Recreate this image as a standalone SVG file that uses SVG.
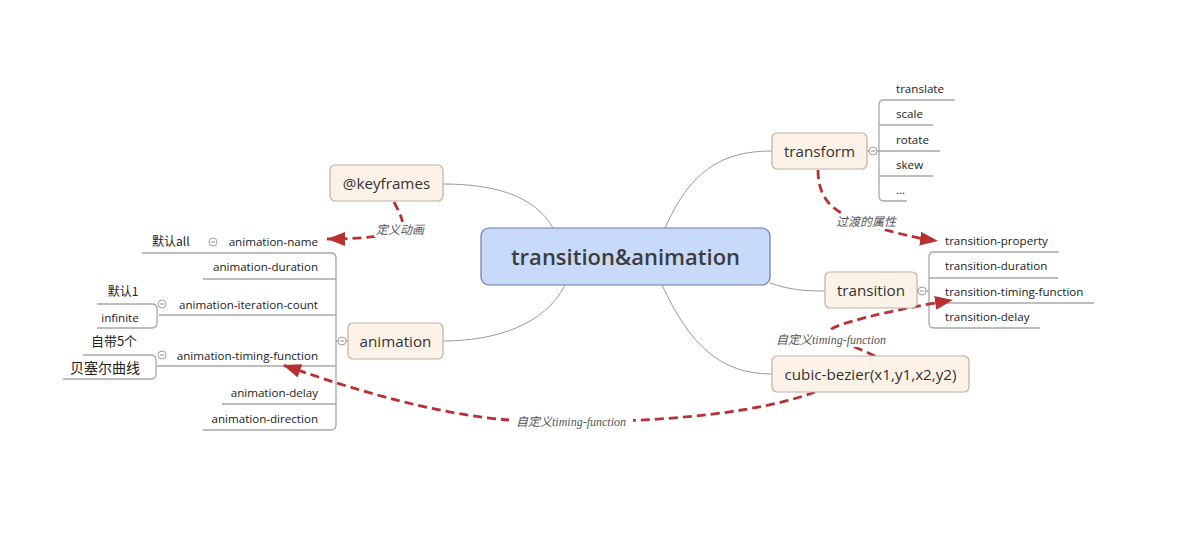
<svg xmlns="http://www.w3.org/2000/svg" width="1198" height="554" viewBox="0 0 1198 554">
<style>
text{font-family:"Open Sans","Noto Sans","Noto Sans CJK SC",sans-serif;fill:#222}
.node rect{fill:#fdf2e8;stroke:#bdb1a5;stroke-width:1.2}
.node text{font-size:15.2px;fill:#333;text-anchor:middle}
.leaf{font-size:11.6px}
.r{text-anchor:end}
.cjk{font-family:"Noto Sans CJK SC",sans-serif;font-size:12px}
.conn{fill:none;stroke:#9a9a9a;stroke-width:1}
.tree{fill:none;stroke:#a8a8a8;stroke-width:1.3}
.rel{fill:none;stroke:#b83030;stroke-width:2.8;stroke-dasharray:9,5}
.lab{font-family:"Liberation Serif","Noto Sans CJK SC",serif;font-style:italic;font-size:12px;fill:#555;text-anchor:middle}
.labbg{fill:#fff}
</style>
<defs>
<marker id="arr" markerUnits="userSpaceOnUse" markerWidth="20" markerHeight="16" refX="18" refY="7" orient="auto" viewBox="0 0 20 14">
<path d="M0,0 L18,7 L0,14 z" fill="#b83030"/>
</marker>
<g id="tg"><circle r="4" fill="#ffffff" stroke="#a0a0a0" stroke-width="1"/><path d="M-2,0 H2" stroke="#909090" stroke-width="1"/></g>
</defs>
<rect width="1198" height="554" fill="#fff"/>

<g id="connectors">
<path class="conn" d="M553,228 C535,196 495,184 443,184"/>
<path class="conn" d="M565,285 C545,325 495,341 443,341"/>
<path class="conn" d="M665,228 C690,172 720,151 772,151"/>
<path class="conn" d="M770,283 C790,290 805,291 825,291"/>
<path class="conn" d="M662,285 C690,345 720,374 772,374"/>

<path class="tree" d="M867,151 H869 M877,151 H879"/>
<path class="tree" d="M955,100 H884 Q879,100 879,105 V196 Q879,201 884,201 H907"/>
<path class="tree" d="M879,125 H933 M879,151 H940 M879,176 H933"/>
<path class="tree" d="M917,291 H918 M926,291 H929"/>
<path class="tree" d="M1059,252 H934 Q929,252 929,257 V323 Q929,328 934,328 H1040"/>
<path class="tree" d="M929,278 H1058 M929,303 H1094"/>
<path class="tree" d="M348,341 H346 M338,341 H336"/>
<path class="tree" d="M142,253 H331 Q336,253 336,258 V425 Q336,430 331,430 H203"/>
<path class="tree" d="M203,279 H336 M159,315 H336 M157,366 H336 M222,404 H336"/>
<path class="tree" d="M97,304 H152 Q157,304 157,309 V323 Q157,328 152,328 H97"/>
<path class="tree" d="M83,355 H151 Q156,355 156,360 V374 Q156,379 151,379 H63"/>

<path class="rel" marker-end="url(#arr)" d="M394,202 C402,218 410,230 390,234 C370,238 350,239 327,239"/>
<path class="rel" marker-end="url(#arr)" d="M818,170 C818,205 840,215 870,225 C895,233 915,238 938,241"/>
<path class="rel" marker-end="url(#arr)" d="M875,356 C850,343 810,335 840,325 C870,315 915,306 953,300"/>
<path class="rel" marker-end="url(#arr)" d="M815,392 C740,420 600,425 510,420 C440,415 360,392 283,365"/>
</g>

<g id="labels">
<rect class="labbg" x="374" y="222" width="52" height="15"/>
<text class="lab" x="400" y="234">定义动画</text>
<rect class="labbg" x="834" y="214" width="64" height="15"/>
<text class="lab" x="866" y="226">过渡的属性</text>
<rect class="labbg" x="770" y="332" width="123" height="15"/>
<text class="lab" x="831" y="344">自定义timing-function</text>
<rect class="labbg" x="509" y="414" width="124" height="15"/>
<text class="lab" x="571" y="426">自定义timing-function</text>
</g>

<g id="center">
<rect x="481" y="228" width="289" height="57" rx="8" fill="#c8dafa" stroke="#6a7ca6" stroke-width="1.2"/>
<text x="625.5" y="265" style="font-size:22px;font-weight:600;fill:#3c3c3c;text-anchor:middle">transition&amp;animation</text>
</g>

<g id="keyframes" class="node">
<rect x="330" y="165" width="113" height="36" rx="5"/>
<text x="386.5" y="189">@keyframes</text>
</g>

<g id="animation" class="node">
<rect x="348" y="323" width="95" height="36" rx="5"/>
<text x="395.5" y="347">animation</text>
</g>

<g id="transform" class="node">
<rect x="772" y="133" width="95" height="36" rx="5"/>
<text x="819.5" y="157">transform</text>
</g>

<g id="transition" class="node">
<rect x="825" y="272" width="92" height="36" rx="5"/>
<text x="871" y="296">transition</text>
</g>

<g id="cubic-bezier" class="node">
<rect x="772" y="356" width="197" height="36" rx="5"/>
<text x="870.5" y="380">cubic-bezier(x1,y1,x2,y2)</text>
</g>

<g id="toggles">
<use href="#tg" x="342" y="341"/>
<use href="#tg" x="873" y="151"/>
<use href="#tg" x="922" y="291"/>
<use href="#tg" x="213" y="242"/>
<use href="#tg" x="162" y="304"/>
<use href="#tg" x="162" y="355"/>
</g>

<g id="transform-children">
<text class="leaf" x="896" y="93">translate</text>
<text class="leaf" x="896" y="118">scale</text>
<text class="leaf" x="896" y="144">rotate</text>
<text class="leaf" x="896" y="169">skew</text>
<text class="leaf" x="896" y="194">...</text>
</g>

<g id="transition-children">
<text class="leaf" x="945" y="245">transition-property</text>
<text class="leaf" x="945" y="270">transition-duration</text>
<text class="leaf" x="945" y="296">transition-timing-function</text>
<text class="leaf" x="945" y="321">transition-delay</text>
</g>

<g id="animation-children">
<text class="leaf r" x="318" y="246">animation-name</text>
<text class="cjk" x="152" y="246">默认all</text>
<text class="leaf r" x="318" y="271">animation-duration</text>
<text class="leaf r" x="318" y="309">animation-iteration-count</text>
<text class="cjk" x="123" y="296" style="text-anchor:middle">默认1</text>
<text class="leaf" x="120" y="322" style="text-anchor:middle">infinite</text>
<text class="leaf r" x="318" y="360">animation-timing-function</text>
<text class="cjk" x="114" y="346" style="text-anchor:middle;font-size:13px">自带5个</text>
<text class="cjk" x="105" y="373" style="text-anchor:middle;font-size:14px">贝塞尔曲线</text>
<text class="leaf r" x="318" y="397">animation-delay</text>
<text class="leaf r" x="318" y="423">animation-direction</text>
</g>
</svg>
